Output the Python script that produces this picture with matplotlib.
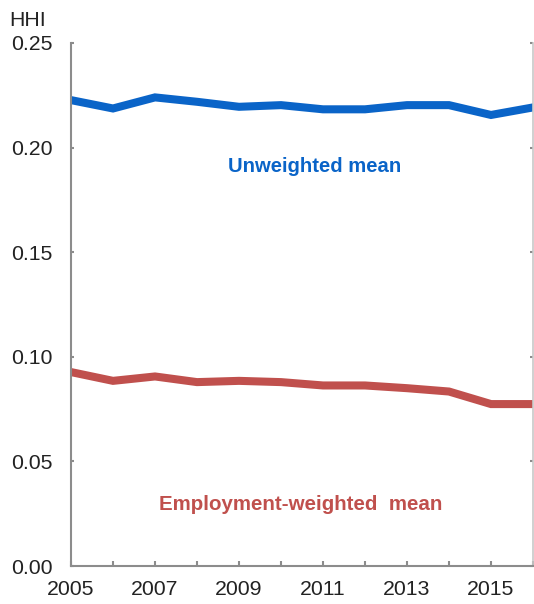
import numpy as np
import matplotlib.pyplot as plt

plt.rcParams['font.family'] = ['Liberation Sans', 'DejaVu Sans']

years = np.arange(2005, 2017)
unweighted = [0.2227, 0.2187, 0.2240, 0.2219, 0.2195, 0.2203,
              0.2183, 0.2183, 0.2203, 0.2203, 0.2156, 0.2192]
emp_weighted = [0.0927, 0.0885, 0.0906, 0.0879, 0.0885, 0.0879,
                0.0863, 0.0863, 0.0850, 0.0834, 0.0774, 0.0774]
yticks = [0.00, 0.05, 0.10, 0.15, 0.20, 0.25]
xticks = [2005, 2007, 2009, 2011, 2013, 2015]

blue = '#0A64C8'
red = '#C0504D'

fig = plt.figure(figsize=(5.34, 6.04), dpi=100)
ax = fig.add_axes([71 / 534, 1 - 566 / 604, 462 / 534, 523 / 604])

ax.plot(years, unweighted, color=blue, lw=5.8, solid_joinstyle='miter')
ax.plot(years, emp_weighted, color=red, lw=5.8, solid_joinstyle='miter')

ax.set_xlim(2005, 2016)
ax.set_ylim(0, 0.25)
ax.set_yticks(yticks)
ax.set_yticklabels([f'{v:.2f}' for v in yticks])
ax.set_xticks(years, minor=True)
ax.set_xticks(xticks)
ax.set_xticklabels([str(x) for x in xticks])

gray = '#8C8C8C'
for s in ['left', 'right', 'bottom']:
    ax.spines[s].set_color(gray)
    ax.spines[s].set_linewidth(1.5)
ax.spines['right'].set_color('#C8C8C8')
ax.spines['right'].set_linewidth(1.2)
ax.spines['top'].set_visible(False)

ax.tick_params(axis='y', direction='in', length=2.5, width=1.5, color=gray,
               labelsize=15.3, pad=13, right=True, labelcolor='#222222')
ax.tick_params(axis='x', which='both', direction='in', length=3.8, width=1.5,
               color=gray, labelsize=15.3, pad=10, labelcolor='#222222')

ax.text(2010.81, 0.1909, 'Unweighted mean', color=blue, fontsize=14.6,
        fontweight='bold', ha='center', va='center')
ax.text(2010.48, 0.0292, 'Employment-weighted  mean', color=red, fontsize=14.8,
        fontweight='bold', ha='center', va='center')

fig.text(9 / 534, 1 - 20 / 604, 'HHI', fontsize=15.3, color='#222222',
         ha='left', va='center')

fig.savefig('out.png', dpi=100)
